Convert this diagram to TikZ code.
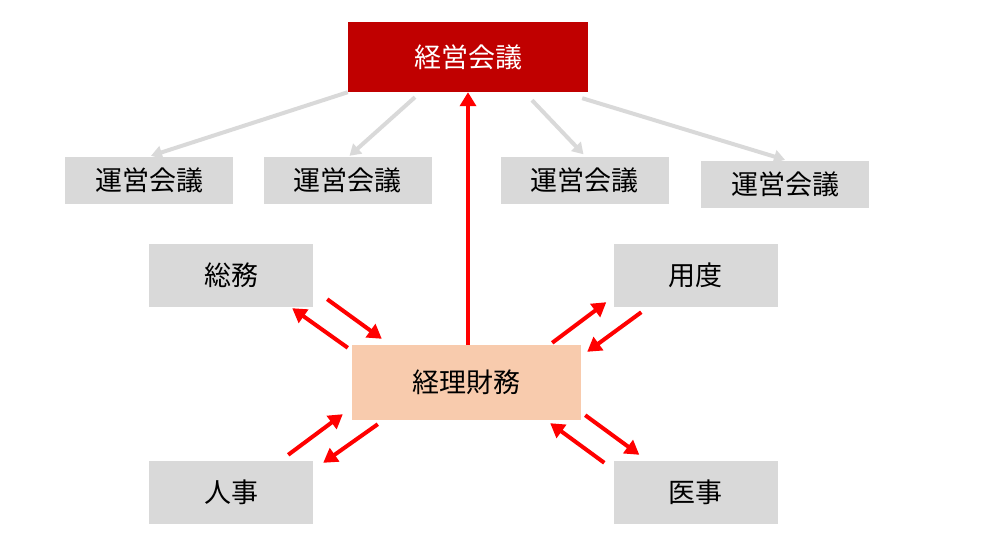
\documentclass[tikz,border=0pt]{standalone}
\usepackage{fontspec}
\setmainfont{Noto Sans CJK JP}
\usetikzlibrary{arrows.meta}
\definecolor{kaigired}{HTML}{C00000}
\definecolor{boxgray}{HTML}{D9D9D9}
\definecolor{keiripeach}{HTML}{F8CBAD}
\begin{document}
\begin{tikzpicture}[x=1pt, y=-1pt,
  box/.style={fill=boxgray, minimum width=164pt, minimum height=63pt, inner sep=0pt, font=\fontsize{27}{30}\selectfont},
  uneibox/.style={box, minimum width=168pt, minimum height=47pt},
  redarr/.style={draw=red, line width=4pt, -{Triangle[length=14pt,width=16pt]}},
  grayarr/.style={draw=boxgray, line width=4pt, -{Triangle[length=11pt,width=13pt]}}]
\useasboundingbox (0,0) rectangle (985,547);
% top and middle
\node[box, fill=kaigired, text=white, minimum width=240pt, minimum height=70pt] (kaigi) at (468,57) {経営会議};
\node[box, fill=keiripeach, minimum width=229pt, minimum height=75pt] (keiri) at (466.5,382.5) {経理財務};
% meetings row
\node[uneibox] (unei1) at (149,180.5) {運営会議};
\node[uneibox] (unei2) at (347.5,180.5) {運営会議};
\node[uneibox] (unei3) at (584.5,180) {運営会議};
\node[uneibox] (unei4) at (785,184.5) {運営会議};
% departments
\node[box] (soumu) at (231,275.5) {総務};
\node[box] (youdo) at (695.5,275.5) {用度};
\node[box] (jinji) at (231,492.5) {人事};
\node[box] (iji) at (695.5,492.5) {医事};
% gray arrows
\draw[grayarr] (kaigi.south west) -- ([shift={(2,-1)}]unei1.north);
\draw[grayarr] ([shift={(-53,5)}]kaigi.south) -- ([shift={(2,-1)}]unei2.north);
\draw[grayarr] ([shift={(64,8)}]kaigi.south) -- ([shift={(-1,-2)}]unei3.north);
\draw[grayarr] ([shift={(-6,6)}]kaigi.south east) -- ([shift={(0,-1)}]unei4.north);
% red arrows
\draw[redarr] (keiri.north -| kaigi.south) -- (kaigi.south);
\draw[redarr] ([shift={(14,-8)}]soumu.south east) -- ([shift={(30,-6)}]keiri.north west);
\draw[redarr] ([shift={(-4,3)}]keiri.north west) -- ([shift={(-21,1)}]soumu.south east);
\draw[redarr] ([shift={(-29,-2)}]keiri.north east) -- ([shift={(-7,-5)}]youdo.south west);
\draw[redarr] ([shift={(28,5)}]youdo.south west) -- ([shift={(6,7)}]keiri.north east);
\draw[redarr] ([shift={(-25,-6)}]jinji.north east) -- ([shift={(-9,-6)}]keiri.south west);
\draw[redarr] ([shift={(26,4)}]keiri.south west) -- ([shift={(10,2)}]jinji.north east);
\draw[redarr] ([shift={(4,-5)}]keiri.south east) -- ([shift={(26,-6)}]iji.north west);
\draw[redarr] ([shift={(-9,2)}]iji.north west) -- ([shift={(-31,3)}]keiri.south east);
\end{tikzpicture}
\end{document}
